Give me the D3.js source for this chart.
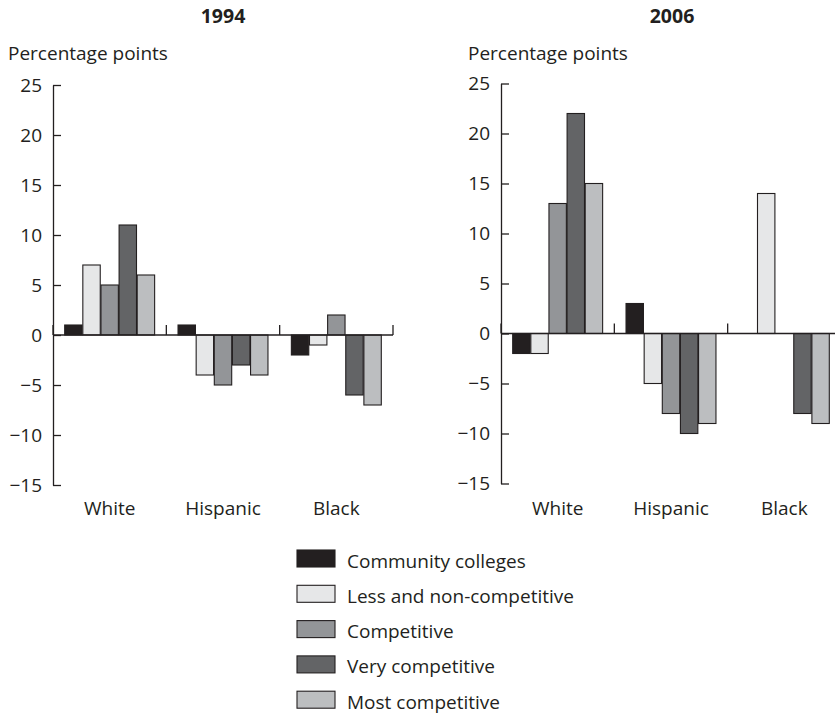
<!DOCTYPE html>
<html>
<head>
<meta charset="utf-8">
<script src="https://cdn.jsdelivr.net/npm/d3@7"></script>
<style>
  html, body { margin: 0; padding: 0; background: #fff; }
  svg { display: block; font-family: "Open Sans", "Noto Sans", sans-serif; }
</style>
</head>
<body>
<svg id="chart" width="835" height="716"></svg>
<script>
const groups = ["White", "Hispanic", "Black"];
const seriesNames = ["Community colleges", "Less and non-competitive", "Competitive", "Very competitive", "Most competitive"];
const seriesColors = ["#231f20", "#e6e7e8", "#939598", "#636466", "#bcbec0"];
const years = ["1994", "2006"];
// values[group][series]
const values1994 = [
  [1, 7, 5, 11, 6],
  [1, -4, -5, -3, -4],
  [-2, -1, 2, -6, -7]
];
const values2006 = [
  [-2, -2, 13, 22, 15],
  [3, -5, -8, -10, -9],
  [0, 14, 0, -8, -9]
];
const yTicks = [-15, -10, -5, 0, 5, 10, 15, 20, 25];
const yLabel = "Percentage points";

const svg = d3.select("#chart");
const ink = "#231f20";
const fs = 19;

const panels = [
  { year: years[0], data: values1994, x0: 53, top: 85, titleX: 223, labelX: 8 },
  { year: years[1], data: values2006, x0: 501, top: 83.5, titleX: 672, labelX: 468 }
];

panels.forEach(p => {
  const g = svg.append("g").attr("transform", `translate(${p.x0},0)`);
  const plotW = 340;
  const y = d3.scaleLinear().domain([-15, 25]).range([p.top + 400, p.top]);
  const x = d3.scaleBand().domain(groups).range([0, plotW]).paddingInner(0).paddingOuter(0);
  const xi = d3.scaleBand().domain(d3.range(seriesNames.length))
    .range([11.7, x.bandwidth() - 11.7]).paddingInner(0.04);

  // title
  svg.append("text").attr("x", p.titleX).attr("y", 23).attr("text-anchor", "middle")
    .attr("font-size", 19.5).attr("font-weight", "bold").attr("fill", ink).text(p.year);
  svg.append("text").attr("x", p.labelX).attr("y", 60)
    .attr("font-size", fs).attr("fill", ink).text(yLabel);

  // y axis
  const ya = d3.axisLeft(y).tickValues(yTicks).tickSizeInner(-8).tickSizeOuter(0).tickPadding(11)
    .tickFormat(d => d < 0 ? "\u2212" + Math.abs(d) : d);
  const yg = g.append("g").call(ya);
  yg.select(".domain").attr("stroke", ink).attr("stroke-width", 1.3);
  yg.selectAll(".tick line").attr("stroke", ink).attr("stroke-width", 1.3);
  yg.selectAll(".tick text").attr("font-size", fs).attr("fill", ink)
    .attr("font-family", "'Open Sans', 'Noto Sans', sans-serif");

  // bars
  groups.forEach((grp, gi) => {
    const gg = g.append("g").attr("transform", `translate(${x(grp)},0)`);
    gg.selectAll("rect").data(p.data[gi].map((v, si) => ({ v, si })).filter(d => d.v !== 0))
      .join("rect")
      .attr("x", d => xi(d.si))
      .attr("width", xi.bandwidth())
      .attr("y", d => y(Math.max(0, d.v)))
      .attr("height", d => Math.abs(y(d.v) - y(0)))
      .attr("fill", d => seriesColors[d.si])
      .attr("stroke", ink).attr("stroke-width", 1.1);
  });

  // zero line
  g.append("line").attr("x1", 0).attr("x2", plotW).attr("y1", y(0)).attr("y2", y(0))
    .attr("stroke", ink).attr("stroke-width", 1.3);
  // category separators
  const seps = groups.map(grp => x(grp)).concat([plotW]);
  g.selectAll("line.sep").data(seps).join("line").attr("class", "sep")
    .attr("x1", d => d).attr("x2", d => d).attr("y1", y(0) - 10).attr("y2", y(0))
    .attr("stroke", ink).attr("stroke-width", 1.3);

  // category labels
  g.selectAll("text.cat").data(groups).join("text").attr("class", "cat")
    .attr("x", d => x(d) + x.bandwidth() / 2).attr("y", 515)
    .attr("text-anchor", "middle").attr("font-size", fs).attr("fill", ink).text(d => d);
});

// legend
const lg = svg.append("g").attr("transform", "translate(297,550)");
const rows = lg.selectAll("g").data(seriesNames).join("g")
  .attr("transform", (d, i) => `translate(0,${i * 35.3})`);
rows.append("rect").attr("width", 38).attr("height", 17)
  .attr("fill", (d, i) => seriesColors[i]).attr("stroke", ink).attr("stroke-width", 1.1);
rows.append("text").attr("x", 50).attr("y", 17.5).attr("font-size", fs).attr("fill", ink).text(d => d);
</script>
</body>
</html>
